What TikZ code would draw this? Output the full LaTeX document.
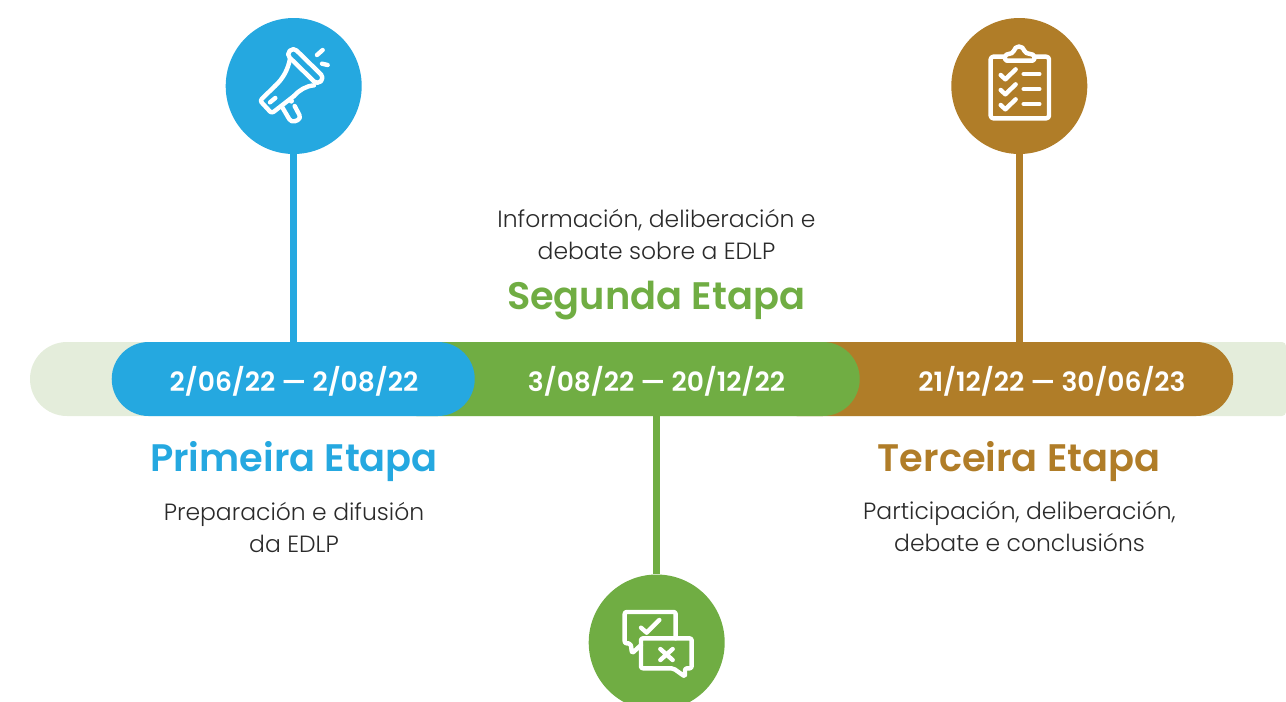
\documentclass[tikz,border=0pt]{standalone}
\usepackage{fontspec}
\setmainfont{Poppins}
\newfontfamily\fsemi{Poppins SemiBold}
\newfontfamily\flight{Poppins Light}
\definecolor{cblue}{HTML}{25A8E0}
\definecolor{cgreen}{HTML}{70AD43}
\definecolor{cbrown}{HTML}{B07D28}
\definecolor{cpale}{HTML}{E4EDDB}
\definecolor{cink}{HTML}{2A2A2A}
\tikzset{
  disc/.style={circle,inner sep=0pt,minimum size=102pt,fill=#1},
  pill/.style={rectangle,rounded corners=27.7pt,inner sep=0pt,minimum height=55.5pt,fill=#1},
  datum/.style={text=white,inner sep=0pt,font=\fsemi\fontsize{19.9pt}{22pt}\selectfont},
  stem/.style={line width=5.25pt,draw=#1},
  etapa/.style={text=#1,inner sep=0pt,font=\fsemi\fontsize{28.75pt}{32pt}\selectfont},
  desc/.style={text=cink,inner sep=0pt,align=center,font=\flight\fontsize{17.6pt}{24pt}\selectfont},
  ico/.style={draw=white,line width=3.3pt,line cap=round,line join=round},
  zoomed/.style={x=0.25pt,y=-0.25pt}
}
\begin{document}
\begin{tikzpicture}[x=0.75pt,y=-0.75pt]
\useasboundingbox (0,0) rectangle (1286,701);
\fill[cpale,rounded corners=27.7pt] (600,342) -- (30,342) -- (30,416) -- (600,416) [rounded corners=3pt] -- (1286,416) -- (1286,342) -- cycle;
% pills, brown under green under blue
\node[pill=cbrown,minimum width=355pt,anchor=east] (pc) at (1233.5,379) {};
\node[pill=cgreen,minimum width=360pt,anchor=east] (pb) at (860,379) {};
\node[pill=cblue,minimum width=272.25pt,anchor=east] (pa) at (475,379) {};
\node[datum] (da) at (294,381) {2/06/22 — 2/08/22};
\node[datum] (db) at (656.5,381) {3/08/22 — 20/12/22};
\node[datum] (dc) at (1052,381) {21/12/22 — 30/06/23};
% discs
\node[disc=cblue] (ca) at (293.7,86) {};
\node[disc=cbrown] (cc) at (1019.3,86) {};
\node[disc=cgreen] (cb) at (656.7,642.5) {};
% stems
\coordinate (sa) at (293.7,342);
\coordinate (sc) at (1019.3,342);
\coordinate (sb) at (656.7,416);
\draw[stem=cblue] (ca.south) -- (sa);
\draw[stem=cbrown] (cc.south) -- (sc);
\draw[stem=cgreen] (sb) -- (cb.north);
% headings
\node[etapa=cblue] (ta) at (294,461.5) {Primeira Etapa};
\node[etapa=cgreen] (tb) at (656,300.5) {Segunda Etapa};
\node[etapa=cbrown] (tc) at (1019,461.5) {Terceira Etapa};
\node[desc] (xa) at (294,527) {Preparación e difusión\\da EDLP};
\node[desc] (xb) at (656.5,234) {Información, deliberación e\\debate sobre a EDLP};
\node[desc] (xc) at (1019.5,527) {Participación, deliberación,\\debate e conclusións};
% megaphone
\begin{scope}[shift={(220,10)},zoomed]
\draw[ico,rounded corners=3.4pt] (199,133) -- (220,112) -- (313,203) -- (292,224) -- cycle;
\draw[ico] (210,146) .. controls (204,178) and (190,205) .. (165,228);
\draw[ico] (282,226) .. controls (258,228) and (238,240) .. (222,258);
\draw[ico,rounded corners=1.8pt] (165,228) -- (120,272) -- (155,310) -- (222,258);
\draw[ico] (150,277) -- (166,264);
\draw[ico,rounded corners=3pt] (187,292) -- (214,338) -- (244,326) -- (224,288);
\fill[white] (214,273) circle[radius=8];
\draw[ico] (291,135) -- (308,120);
\draw[ico] (306,161) -- (323,165);
\end{scope}
% clipboard
\begin{scope}[shift={(945,10)},zoomed]
\draw[ico,rounded corners=2pt] (180,140) -- (137,140) -- (137,325) -- (312,325) -- (312,140) -- (268,140);
\draw[ico,rounded corners=1.2pt] (180,152) -- (180,135) -- (205,128) .. controls (210,105) and (234,105) .. (240,128) -- (268,135) -- (268,152) -- cycle;
\foreach \d in {0,45,90}{
  \draw[ico] (167,{195+\d}) -- (181,{208+\d}) -- (212,{178+\d});
  \draw[ico] (236,{192+\d}) -- (283,{192+\d});
}
\end{scope}
% bubbles
\begin{scope}[shift={(580,565)},zoomed]
\draw[ico,rounded corners=1.5pt] (287,220) -- (287,141) -- (134,141) -- (134,235) -- (152,235) -- (156,265) -- (183,240);
\draw[ico,rounded corners=1.5pt] (183,220) -- (335,220) -- (335,310) -- (315,310) -- (315,335) -- (280,310) -- (183,310) -- cycle;
\draw[ico] (183,188) -- (200,203) -- (238,165);
\draw[ico] (241,252) -- (278,285) (278,252) -- (241,285);
\end{scope}
\end{tikzpicture}
\end{document}
